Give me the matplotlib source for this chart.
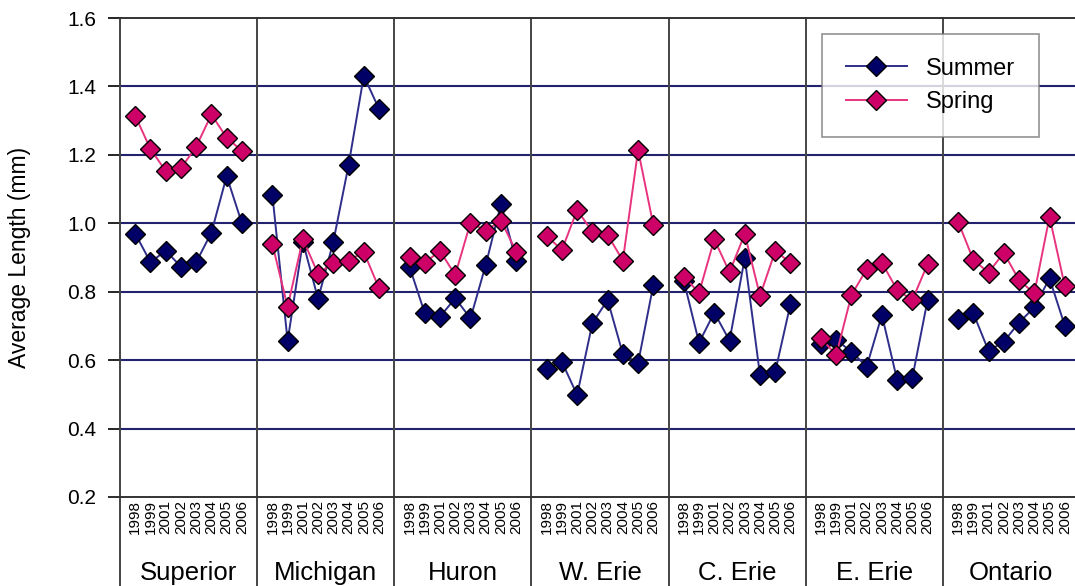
import matplotlib
matplotlib.use("Agg")
import matplotlib.pyplot as plt
from matplotlib.lines import Line2D
import matplotlib.transforms as mtransforms

plt.rcParams['font.family'] = ['Liberation Sans', 'DejaVu Sans']

lakes = ["Superior", "Michigan", "Huron", "W. Erie", "C. Erie", "E. Erie", "Ontario"]
years = ["1998", "1999", "2001", "2002", "2003", "2004", "2005", "2006"]

summer = {
    "Superior": [0.970, 0.886, 0.920, 0.873, 0.886, 0.973, 1.138, 1.000],
    "Michigan": [1.083, 0.656, 0.946, 0.779, 0.946, 1.170, 1.431, 1.334],
    "Huron":    [0.873, 0.737, 0.727, 0.781, 0.722, 0.878, 1.056, 0.891],
    "W. Erie":  [0.574, 0.595, 0.498, 0.708, 0.776, 0.618, 0.591, 0.820],
    "C. Erie":  [0.832, 0.651, 0.739, 0.657, 0.898, 0.556, 0.566, 0.764],
    "E. Erie":  [0.646, 0.659, 0.625, 0.581, 0.732, 0.542, 0.549, 0.776],
    "Ontario":  [0.720, 0.737, 0.627, 0.654, 0.710, 0.754, 0.839, 0.701],
}
spring = {
    "Superior": [1.314, 1.217, 1.153, 1.161, 1.224, 1.318, 1.250, 1.212],
    "Michigan": [0.939, 0.756, 0.954, 0.852, 0.885, 0.891, 0.916, 0.810],
    "Huron":    [0.902, 0.885, 0.919, 0.849, 1.002, 0.978, 1.008, 0.917],
    "W. Erie":  [0.963, 0.922, 1.039, 0.975, 0.966, 0.891, 1.214, 0.995],
    "C. Erie":  [0.844, 0.797, 0.953, 0.857, 0.969, 0.788, 0.919, 0.885],
    "E. Erie":  [0.664, 0.615, 0.790, 0.866, 0.885, 0.805, 0.776, 0.881],
    "Ontario":  [1.005, 0.893, 0.856, 0.914, 0.834, 0.795, 1.019, 0.817],
}
yticks = [0.2, 0.4, 0.6, 0.8, 1.0, 1.2, 1.4, 1.6]

summer_line = "#2e2e8a"
summer_face = "#000066"
spring_line = "#e8337f"
spring_face = "#cc0066"
grid_col = "#22226e"
MS = 10

fig = plt.figure(figsize=(10.75, 5.86), dpi=100)
ax = fig.add_axes([120/1075, 1-497/586, 960/1075, 479/586])

slot = len(years) + 1
xt, xl = [], []
for g, lake in enumerate(lakes):
    xs = [g*slot + 1 + j for j in range(len(years))]
    xt += xs
    xl += years
    ax.plot(xs, summer[lake], color=summer_line, lw=1.4, marker='D', ms=MS,
            mfc=summer_face, mec='black', mew=1.0, zorder=3)
    ax.plot(xs, spring[lake], color=spring_line, lw=1.4, marker='D', ms=MS,
            mfc=spring_face, mec='black', mew=1.0, zorder=4)

ax.set_xlim(0, slot*len(lakes))
ax.set_ylim(0.2, 1.6)
ax.set_yticks(yticks)
ax.set_yticklabels([f"{v:.1f}" for v in yticks], fontsize=15)
ax.tick_params(axis='y', direction='out', length=9, width=1.2, pad=8)
ax.set_xticks(xt)
ax.set_xticklabels(xl, rotation=90, fontsize=11)
ax.tick_params(axis='x', length=0, pad=2)
for v in yticks[1:-1]:
    ax.axhline(v, color=grid_col, lw=1.5, zorder=1)

for s in ['right', 'bottom']:
    ax.spines[s].set_visible(False)
ax.spines['top'].set_color('#333333')
ax.spines['top'].set_linewidth(1.4)
ax.spines['left'].set_visible(False)

trans = mtransforms.blended_transform_factory(ax.transData, ax.transAxes)
for g in range(len(lakes) + 1):
    ax.plot([g*slot, g*slot], [1, -0.2], transform=trans, color='#444444',
            lw=1.4, clip_on=False, zorder=2)
ax.plot([-0.75, slot*len(lakes)], [0, 0], transform=trans, color='#333333',
        lw=1.4, clip_on=False, zorder=2)
for g, lake in enumerate(lakes):
    ax.text(g*slot + slot/2, -0.158, lake, transform=trans, ha='center',
            va='center', fontsize=18.5)

ax.set_ylabel("Average Length (mm)", fontsize=16.5)
ax.yaxis.set_label_coords(-0.093, 0.5)

handles = [
    Line2D([], [], color=summer_line, lw=1.4, marker='D', ms=MS,
           mfc=summer_face, mec='black', mew=1.0, label='Summer'),
    Line2D([], [], color=spring_line, lw=1.4, marker='D', ms=MS,
           mfc=spring_face, mec='black', mew=1.0, label='Spring'),
]
leg = ax.legend(handles=handles, loc='upper left',
                bbox_to_anchor=(822/1075, 1-34/586), bbox_transform=fig.transFigure,
                fontsize=17, frameon=True, fancybox=False, edgecolor='#777777',
                handlelength=2.6, handletextpad=0.8, borderpad=1.0,
                labelspacing=0.5, borderaxespad=0)
leg.get_frame().set_linewidth(1.2)

fig.savefig("out.png", dpi=100)
